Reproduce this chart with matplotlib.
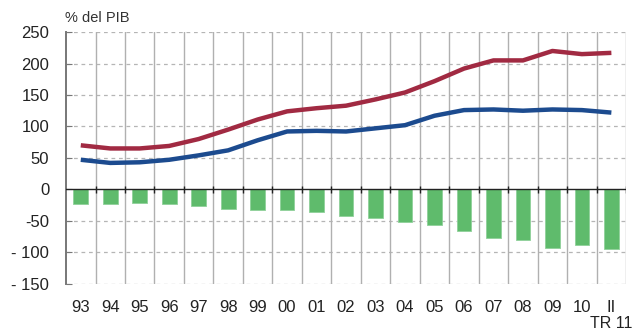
import matplotlib
matplotlib.use("Agg")
import matplotlib.pyplot as plt
import numpy as np

# ---------------------------------------------------------------------------
# Data (% del PIB)
# ---------------------------------------------------------------------------
categories = ["93", "94", "95", "96", "97", "98", "99", "00", "01", "02",
              "03", "04", "05", "06", "07", "08", "09", "10", "II"]
red_line   = [70, 65, 65, 69, 80, 95, 111, 124, 129, 133,
              143, 154, 172, 192, 205, 205, 220, 215, 217]
blue_line  = [47, 42, 43, 47, 54, 62, 78, 92, 93, 92,
              97, 102, 117, 126, 127, 125, 127, 126, 122]
bars       = [-24, -23, -22, -24, -26, -32, -33, -33, -36, -42,
              -46, -52, -56, -66, -78, -80, -93, -89, -95]
yticks      = [250, 200, 150, 100, 50, 0, -50, -100, -150]
ytick_labels = ["250", "200", "150", "100", "50", "0", "-50", "- 100", "- 150"]

RED   = "#a12a42"
BLUE  = "#1c4b8f"
GREEN = "#5fbb6c"

plt.rcParams["font.family"] = ["Liberation Sans", "DejaVu Sans"]

fig = plt.figure(figsize=(6.35, 3.31), dpi=100)
ax = fig.add_axes([0.104, 0.143, 0.882, 0.760])

x = np.arange(len(categories))

# grid
for yv in yticks:
    if yv == 0:
        continue
    ax.axhline(yv, color="#b5b5b5", lw=0.9, ls=(0, (3, 3)), zorder=1)
for b in x + 0.5:
    ax.axvline(b, color="#b0b0b0", lw=1.0, zorder=1)

ax.bar(x, bars, width=0.5, color=GREEN, edgecolor="#8fd19a", linewidth=0.6, zorder=2)
ax.plot(x, red_line, color=RED, lw=3.2, solid_capstyle="butt", zorder=3)
ax.plot(x, blue_line, color=BLUE, lw=3.2, solid_capstyle="butt", zorder=3)

ax.axhline(0, color="#222222", lw=1.0, zorder=4)
ax.vlines(x + 0.5, -6, 6, color="#222222", lw=1.0, zorder=4)

ax.set_xlim(-0.5, len(categories) - 0.5)
ax.set_ylim(-150, 250)

ax.set_yticks(yticks)
ax.set_yticklabels(ytick_labels, fontsize=12, color="#222222")
ax.set_xticks(x)
ax.set_xticklabels(categories, fontsize=12, color="#222222")
ax.tick_params(axis="x", length=0, pad=12)
ax.tick_params(axis="y", direction="in", length=4, color="#777777", pad=12)

for s in ["top", "right", "bottom"]:
    ax.spines[s].set_visible(False)
ax.spines["left"].set_color("#777777")
ax.spines["left"].set_linewidth(1.4)

fig.text(0.102, 0.925, "% del PIB", fontsize=10.5, color="#333333", ha="left", va="bottom")
ax.text(x[-1], -0.128, "TR 11", transform=ax.get_xaxis_transform(),
        fontsize=11.5, color="#222222", ha="center", va="top")

fig.savefig("out.png", dpi=100)
